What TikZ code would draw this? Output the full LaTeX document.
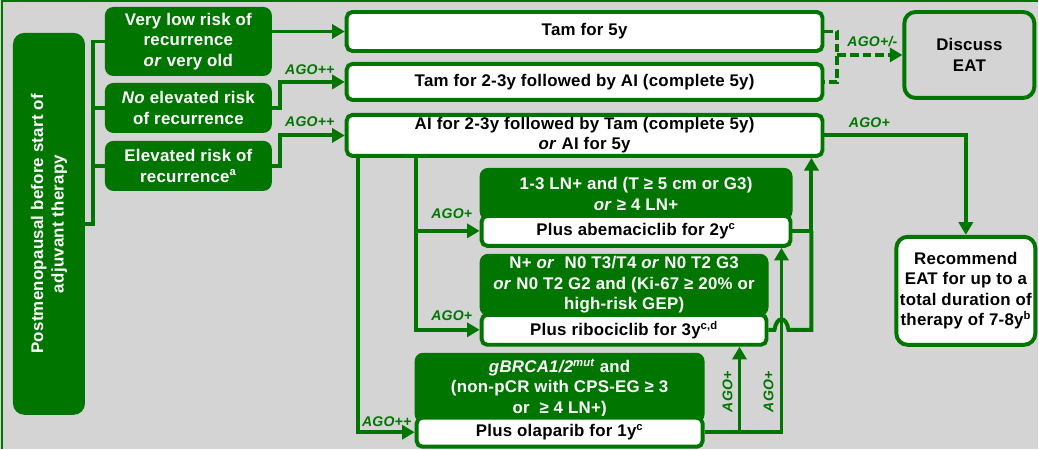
\documentclass[tikz,border=0pt]{standalone}
\usepackage{fontspec}
\setmainfont{Liberation Sans}[LetterSpace=1.5]
\usetikzlibrary{arrows.meta,positioning,calc}
\definecolor{agogreen}{RGB}{0,118,0}
\definecolor{panelgray}{RGB}{212,212,212}

\begin{document}
\begin{tikzpicture}[x=0.025cm, y=-0.025cm,
  every node/.style={font=\fontsize{12}{14.5}\selectfont\bfseries, inner sep=1pt},
  grp/.style={fill=agogreen, text=white, rounded corners=6pt, align=center},
  treat/.style={draw=agogreen, line width=2.8pt, fill=white, rounded corners=4pt, align=center},
  link/.style={draw=agogreen, line width=2.8pt},
  arr/.style={link, -{Triangle[length=9pt,width=10pt]}},
  dlink/.style={link, dash pattern=on 6pt off 3pt},
  ago/.style={text=agogreen, font=\fontsize{10}{12}\selectfont\bfseries\itshape}]
% panel
\fill[panelgray] (0,0) rectangle (1039,449);
\draw[agogreen, line width=1pt] (2,449) |- (1039,1);
\useasboundingbox (0,0) rectangle (1039,449);

% start and risk groups
\node[grp, rotate=90, minimum width=9.55cm, minimum height=1.8cm, rounded corners=8pt] (post) at (49,224)
  {Postmenopausal before start of\\adjuvant therapy};
\node[grp, minimum width=4.175cm, minimum height=1.725cm] (cat1) at (188.5,41.5)
  {Very low risk of\\recurrence\\\textit{or} very old};
\node[grp, minimum width=4.175cm, minimum height=1.25cm] (cat2) at (188.5,108)
  {\textit{No} elevated risk\\of recurrence};
\node[grp, minimum width=4.175cm, minimum height=1.25cm] (cat3) at (188.5,166)
  {Elevated risk of\\recurrence\textsuperscript{a}};

% endocrine therapy
\node[treat, minimum width=11.9cm, minimum height=0.975cm] (tam5) at (585,31.5) {Tam for 5y};
\node[treat, minimum width=11.9cm, minimum height=0.9cm] (tam23) at (585,82)
  {Tam for 2-3y followed by AI (complete 5y)};
\node[treat, minimum width=11.9cm, minimum height=1.025cm] (ai23) at (585,135.5)
  {AI for 2-3y followed by Tam (complete 5y)\\\textit{or} AI for 5y};
\node[treat, fill=panelgray, rounded corners=8pt, minimum width=3.25cm, minimum height=2.15cm] (discuss) at (970,55)
  {Discuss\\EAT};
\node[treat, rounded corners=8pt, minimum width=3.475cm, minimum height=2.7cm] (rec) at (966.5,291)
  {Recommend\\EAT for up to a\\total duration of\\therapy of 7-8y\textsuperscript{b}};

% add-on therapies
\node[grp, minimum width=7.825cm, minimum height=1.3cm] (abhead) at (636.5,194)
  {1-3 LN+ and (T ≥ 5 cm or G3)\\\textit{or} ≥ 4 LN+};
\node[treat, minimum width=7.725cm, minimum height=0.75cm] (abema) at (636.5,231)
  {Plus abemaciclib for 2y\textsuperscript{c}};
\node[grp, minimum width=7.225cm, minimum height=1.55cm] (ribhead) at (624.5,285)
  {N+ \textit{or}\ \ N0 T3/T4 \textit{or} N0 T2 G3\\\textit{or} N0 T2 G2 and (Ki-67 ≥ 20\% or\\high-risk GEP)};
\node[treat, minimum width=7.125cm, minimum height=0.75cm] (ribo) at (624.5,330)
  {Plus ribociclib for 3y\textsuperscript{c,d}};
\node[grp, minimum width=7.25cm, minimum height=1.75cm] (olhead) at (560,388)
  {\textit{gBRCA1/2\textsuperscript{mut}} and\\(non-pCR with CPS-EG ≥ 3\\or\ \ ≥ 4 LN+)};
\node[treat, minimum width=7.15cm, minimum height=0.725cm] (olap) at (560,432.5)
  {Plus olaparib for 1y\textsuperscript{c}};

% connectors
\coordinate (bus) at (93,41.5);
\draw[link] (post.south) -| (bus) -- (cat1.west);
\draw[link] (bus |- cat2.west) -- (cat2.west);
\draw[link] (bus |- cat3.west) -- (cat3.west);
\draw[arr] (tam5.west -| cat1.east) -- (tam5.west);
\draw[arr] (cat2.east) -- ++(8,0) |- (tam23.west);
\draw[arr] (cat3.east) -- ++(8,0) |- (ai23.west);

\coordinate (brk) at (838,55);
\draw[dlink] (tam5.east) -| (brk) |- (tam23.east);
\draw[dlink, -{Triangle[length=9pt,width=10pt]}] (brk) -- (discuss.west);
\draw[arr] (ai23.east) -| (rec.north);

\coordinate (v1) at (358,157);
\coordinate (v2) at (416,157);
\draw[arr] (v1) |- (olap.west);
\draw[arr] (v2) |- (abema.west);
\draw[arr] (v2) |- (ribo.west);

\coordinate (rx) at (812,0);
\coordinate (ox) at (782,0);
\coordinate (px) at (740,0);
\draw[arr] (abema.east) -| (ai23.south -| rx);
\draw[link] (ribo.east) -- (775,330) .. controls (777,316) and (787,316) .. (789,330)
  -- (rx |- ribo.east) -- (rx |- abema.east);
\draw[arr] (olap.east) -| (abema.south -| ox);
\draw[arr] (olap.east) -| (ribo.south -| px);

% recommendation levels
\node[ago] (g1) at (310,70) {AGO++};
\node[ago] (g2) at (310,122) {AGO++};
\node[ago] (g3) at (873,42) {AGO+/-};
\node[ago] (g4) at (870,123) {AGO+};
\node[ago] (g5) at (452,214) {AGO+};
\node[ago] (g6) at (452,316) {AGO+};
\node[ago] (g7) at (387,422) {AGO++};
\node[ago, rotate=90] (g8) at (728,392) {AGO+};
\node[ago, rotate=90] (g9) at (769,392) {AGO+};
\end{tikzpicture}
\end{document}
